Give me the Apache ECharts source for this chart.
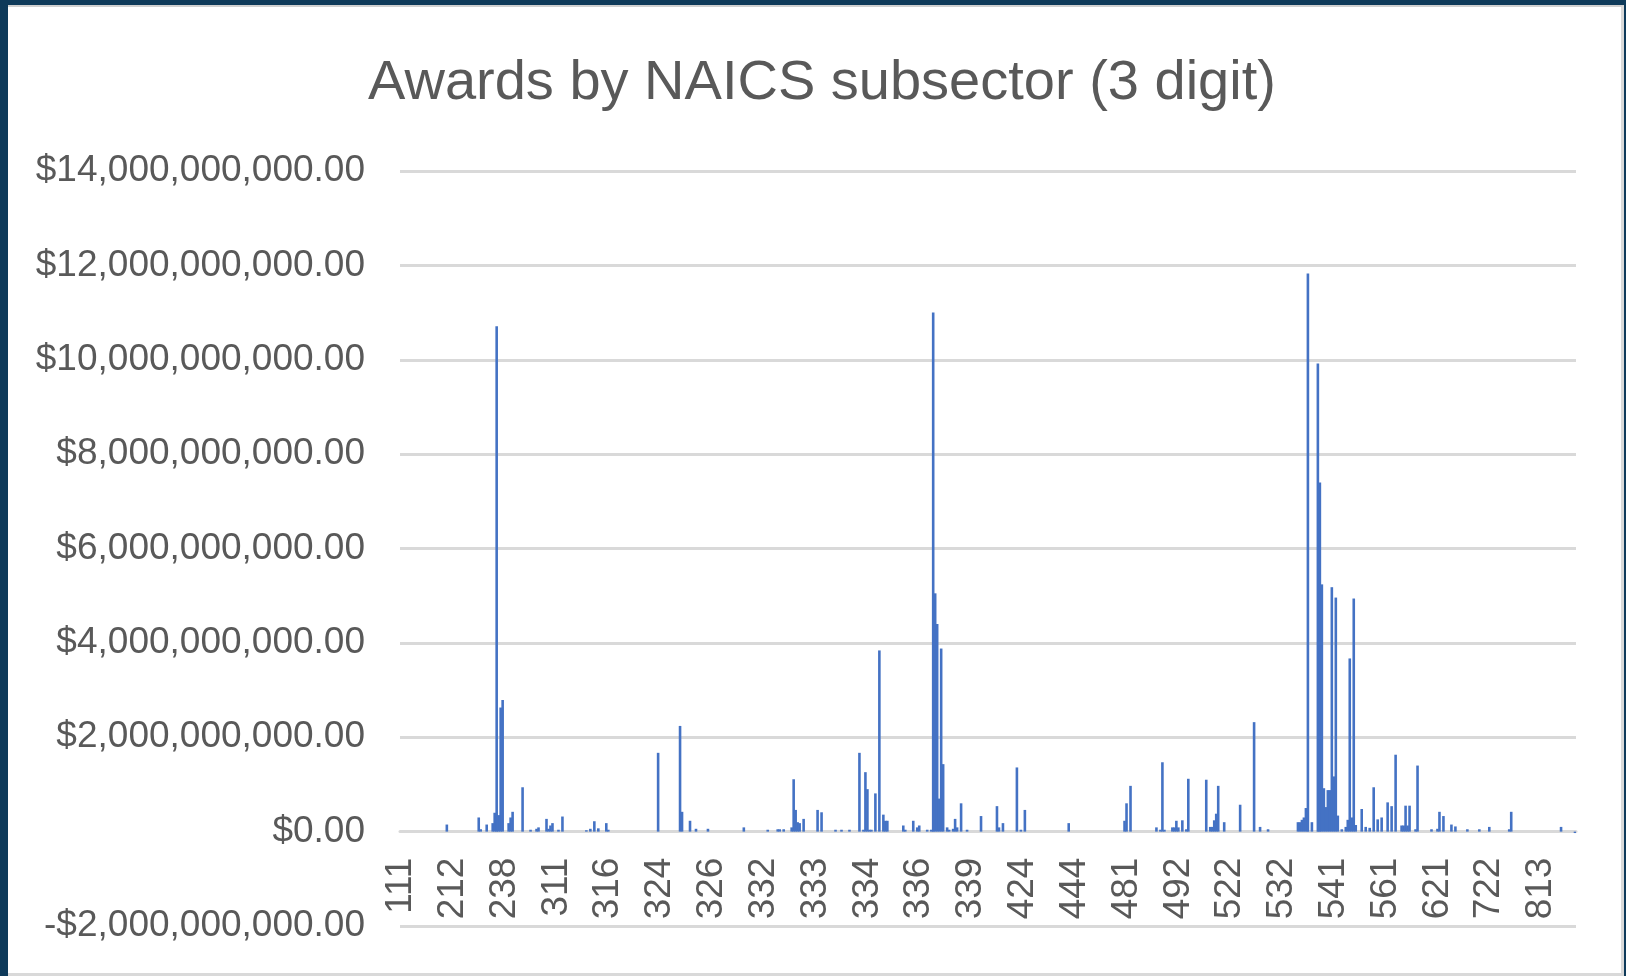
<!DOCTYPE html>
<html>
<head>
<meta charset="utf-8">
<script src="https://cdn.jsdelivr.net/npm/echarts@6/dist/echarts.min.js"></script>
<style>
  html, body { margin: 0; padding: 0; width: 1626px; height: 976px; overflow: hidden; background: #0e3a5a; }
  #panel { position: absolute; left: 8px; top: 5px; width: 1613px; height: 966px; background: #ffffff; border-right: 3px solid #d9d9d9; border-bottom: 3px solid #d9d9d9; border-top: 2px solid #d0d0d0; }
  #chart { position: absolute; left: 0; top: 0; width: 1626px; height: 976px; }
</style>
</head>
<body>
<div id="panel"></div>
<div id="chart"></div>
<script>
// ---- data ----
const chartTitle = 'Awards by NAICS subsector (3 digit)';
// NAICS 3-digit codes shown on the category axis (one every 26 categories)
const tickLabels = ['111','212','238','311','316','324','326','332','333','334','336','339',
                    '424','444','481','492','522','532','541','561','621','722','813'];
const categoryCount = 590;
const labelEvery = 26;
// y axis range / step, in dollars
const yMin = -2e9, yMax = 14e9, yStep = 2e9;
// visible bars: [category index, award amount in $ billions]; other categories have no visible bar
const awardsBillions = [
  [23,0.15],[39,0.3],[40,0.05],[43,0.15],[46,0.18],[47,0.4],[48,10.71],[49,0.35],[50,2.63],[51,2.79],
  [54,0.18],[55,0.3],[56,0.42],[61,0.94],[65,0.04],[68,0.06],[69,0.09],[73,0.27],[74,0.06],[75,0.13],
  [76,0.18],[79,0.04],[81,0.32],[93,0.03],[95,0.06],[97,0.22],[99,0.07],[103,0.18],[104,0.04],
  [129,1.67],[140,2.24],[141,0.42],[145,0.23],[148,0.06],[154,0.06],[172,0.09],[184,0.04],[189,0.05],
  [190,0.05],[192,0.05],[196,0.09],[197,1.11],[198,0.46],[199,0.2],[200,0.18],[202,0.27],[209,0.46],
  [211,0.41],[218,0.04],[221,0.04],[225,0.04],[230,1.67],[232,0.04],[233,1.26],[234,0.9],[235,0.04],
  [236,0.04],[238,0.81],[240,3.84],[242,0.36],[243,0.23],[244,0.23],[252,0.13],[253,0.04],[257,0.23],
  [259,0.09],[260,0.13],[264,0.04],[266,0.04],[267,11.0],[268,5.05],[269,4.4],[270,0.7],[271,3.88],
  [272,1.43],[274,0.09],[275,0.04],[277,0.06],[278,0.27],[279,0.09],[281,0.6],[284,0.04],[291,0.33],
  [299,0.54],[300,0.09],[302,0.18],[309,1.36],[311,0.04],[313,0.46],[335,0.18],[363,0.23],[364,0.6],
  [366,0.97],[379,0.09],[381,0.04],[382,1.47],[383,0.04],[387,0.09],[388,0.09],[389,0.23],[390,0.09],
  [392,0.24],[394,0.05],[395,1.12],[404,1.1],[406,0.1],[407,0.1],[408,0.24],[409,0.38],[410,0.97],
  [413,0.2],[421,0.57],[428,2.32],[431,0.1],[435,0.05],[450,0.2],[451,0.2],[452,0.25],[453,0.3],
  [454,0.5],[455,11.83],[457,0.2],[460,9.92],[461,7.4],[462,5.24],[463,0.92],[464,0.52],[465,0.88],
  [466,0.88],[467,5.18],[468,1.17],[469,4.96],[470,0.34],[472,0.05],[474,0.1],[475,0.25],[476,3.67],
  [477,0.3],[478,4.94],[479,0.14],[482,0.48],[484,0.1],[486,0.08],[488,0.94],[490,0.26],[492,0.3],
  [495,0.62],[497,0.54],[499,1.63],[502,0.13],[503,0.13],[504,0.55],[505,0.13],[506,0.55],[509,0.05],
  [510,1.4],[517,0.05],[520,0.06],[521,0.42],[523,0.33],[527,0.15],[529,0.11],[535,0.05],[541,0.05],
  [546,0.1],[556,0.05],[557,0.42],[582,0.1],[589,-0.03]
];

// ---- build category list and series ----
const categories = [];
for (let i = 0; i < categoryCount; i++) {
  categories.push(tickLabels[Math.min(tickLabels.length - 1, Math.floor(i / labelEvery))]);
}
const values = new Array(categoryCount).fill(0);
awardsBillions.forEach(([idx, b]) => { values[idx] = b * 1e9; });

function money(v) {
  const neg = v < 0;
  const s = Math.round(Math.abs(v)).toString().replace(/\B(?=(\d{3})+(?!\d))/g, ',');
  return (neg ? '-$' : '$') + s + '.00';
}

const FONT = "'Liberation Sans', Arial, sans-serif";
const TXT = '#595959';
const GRID = '#d9d9d9';
const gridTop = 171, gridBottom = 50, canvasH = 976;
// the category axis sits at the $0 line (one step above the bottom of the plot)
const zeroOffset = (canvasH - gridTop - gridBottom) * (0 - yMin) / (yMax - yMin);

const chart = echarts.init(document.getElementById('chart'), null, { renderer: 'canvas' });
chart.setOption({
  backgroundColor: 'transparent',
  animation: false,
  title: {
    text: chartTitle,
    left: 817,
    textAlign: 'center',
    top: 51,
    textStyle: { fontFamily: FONT, fontSize: 56, fontWeight: 'normal', color: TXT }
  },
  grid: { left: 400, right: 50, top: gridTop, bottom: gridBottom, containLabel: false, outerBoundsMode: 'none' },
  xAxis: {
    type: 'category',
    data: categories,
    boundaryGap: true,
    position: 'bottom',
    offset: -zeroOffset,
    axisLine: { show: true, onZero: false, lineStyle: { color: GRID, width: 3 } },
    axisTick: { show: false },
    splitLine: { show: false },
    axisLabel: {
      interval: labelEvery - 1,
      rotate: 90,
      margin: 26,
      fontFamily: FONT,
      fontSize: 37,
      color: TXT
    }
  },
  yAxis: {
    type: 'value',
    min: yMin, max: yMax, interval: yStep,
    axisLine: { show: false },
    axisTick: { show: false },
    splitLine: { show: true, lineStyle: { color: GRID, width: 3 } },
    axisLabel: {
      margin: 35,
      fontFamily: FONT,
      fontSize: 37,
      color: TXT,
      formatter: money
    }
  },
  series: [{
    type: 'bar',
    data: values,
    barWidth: 2.6,
    itemStyle: { color: '#4472c4' }
  }]
});
</script>
</body>
</html>
